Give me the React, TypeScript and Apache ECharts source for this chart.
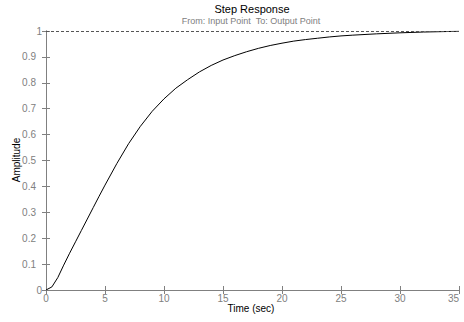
import React, { useEffect, useRef } from "react";
import * as echarts from "echarts";

const timeSec = [0, 0.5, 1, 1.5, 2, 2.5, 3, 3.5, 4, 4.5, 5, 6, 7, 8, 9, 10, 11, 12, 13, 14, 15, 16, 17, 18, 19, 20, 21, 22, 23, 24, 25, 26, 28, 30, 32, 35];
const amplitude = [0, 0.012, 0.048, 0.096, 0.142, 0.186, 0.23, 0.274, 0.318, 0.362, 0.405, 0.488, 0.565, 0.632, 0.69, 0.738, 0.779, 0.812, 0.842, 0.867, 0.888, 0.905, 0.92, 0.933, 0.944, 0.953, 0.961, 0.967, 0.972, 0.977, 0.981, 0.984, 0.989, 0.993, 0.996, 0.999];
const steadyState = 1;
const titleText = "Step Response";
const subtitleText = "From: Input Point  To: Output Point";
const xLabel = "Time (sec)";
const yLabel = "Amplitude";

const FONT = "Liberation Sans, Arial, sans-serif";
const GREY = "#808080";

export default function App() {
  const ref = useRef<HTMLDivElement>(null);
  useEffect(() => {
    const chart = echarts.init(ref.current!, null, { renderer: "svg" });
    const data = timeSec.map((t, i) => [t, amplitude[i]]);
    const tickCommon = { show: true, inside: true, length: 4, lineStyle: { color: GREY, width: 1 } };
    chart.setOption({
      animation: false,
      backgroundColor: "#fff",
      textStyle: { fontFamily: FONT },
      grid: { left: 46, right: 5, top: 31, bottom: 32, containLabel: false },
      graphic: [
        { type: "text", x: 252, y: 9, style: { text: titleText, textAlign: "center", textVerticalAlign: "middle", font: `11px ${FONT}`, fill: "#000" } },
        { type: "text", x: 251, y: 21, style: { text: subtitleText, textAlign: "center", textVerticalAlign: "middle", font: `9px ${FONT}`, fill: GREY } },
        { type: "text", x: 251, y: 308, style: { text: xLabel, textAlign: "center", textVerticalAlign: "middle", font: `10px ${FONT}`, fill: "#000" } },
        { type: "text", x: 16, y: 160, rotation: Math.PI / 2, style: { text: yLabel, textAlign: "center", textVerticalAlign: "middle", font: `10px ${FONT}`, fill: "#000" } },
      ],
      xAxis: [
        {
          type: "value", min: 0, max: 35, interval: 5, position: "bottom",
          axisLine: { show: true, lineStyle: { color: GREY, width: 1 } },
          axisTick: tickCommon,
          axisLabel: { color: GREY, fontSize: 10, fontFamily: FONT, margin: 3, alignMaxLabel: "right" },
          splitLine: { show: false },
        },
        {
          type: "value", min: 0, max: 35, interval: 5, position: "top",
          axisLine: { show: false },
          axisTick: tickCommon,
          axisLabel: { show: false },
          splitLine: { show: false },
        },
      ],
      yAxis: [
        {
          type: "value", min: 0, max: 1, interval: 0.1, position: "left",
          axisLine: { show: true, lineStyle: { color: GREY, width: 1 } },
          axisTick: tickCommon,
          axisLabel: {
            color: GREY, fontSize: 10, fontFamily: FONT, margin: 4,
            formatter: (v: number) => {
              const s = String(Math.round(v * 10) / 10);
              return s.length > 1 ? `{a|${s}}` : s;
            },
            rich: { a: { color: GREY, fontSize: 10, fontFamily: FONT, padding: [0, 6, 0, 0] } },
          },
          splitLine: { show: false },
        },
        {
          type: "value", min: 0, max: 1, interval: 0.1, position: "right",
          axisLine: { show: true, lineStyle: { color: GREY, width: 1 } },
          axisTick: tickCommon,
          axisLabel: { show: false },
          splitLine: { show: false },
        },
      ],
      series: [
        {
          type: "line", data, xAxisIndex: 0, yAxisIndex: 0,
          smooth: false, showSymbol: false, symbol: "none",
          lineStyle: { color: "#000", width: 1 },
          markLine: {
            silent: true, symbol: "none", label: { show: false },
            lineStyle: { color: "#555", type: [3, 2], width: 1 },
            data: [{ yAxis: steadyState }],
          },
          z: 3,
        },
      ],
    });
    return () => chart.dispose();
  }, []);
  return <div ref={ref} style={{ width: 464, height: 322, position: "absolute", left: 0, top: 0 }} />;
}
